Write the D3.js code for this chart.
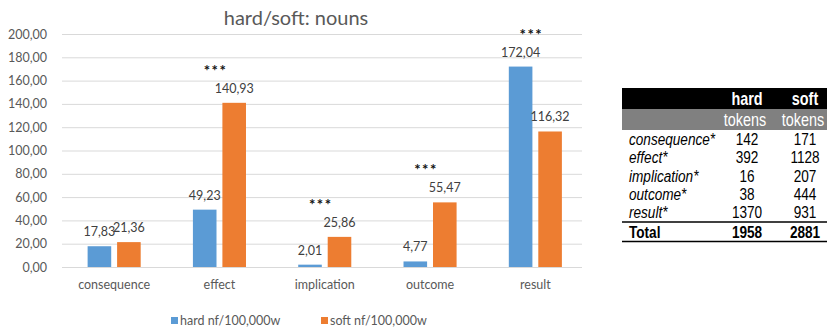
<!DOCTYPE html>
<html>
<head>
<meta charset="utf-8">
<script src="https://cdn.jsdelivr.net/npm/d3@7"></script>
<style>
  html, body { margin: 0; padding: 0; background: #fff; }
  svg { display: block; }
  .chart text { font-family: Lato, "Open Sans", sans-serif; }
  .tbl text { font-family: "Liberation Sans", Arial, sans-serif; }
</style>
</head>
<body>
<svg id="root" width="827" height="328"></svg>
<script>
// Normalised frequencies per 100,000 words
const categories = ["consequence", "effect", "implication", "outcome", "result"];
const hardValues = [17.83, 49.23, 2.01, 4.77, 172.04];
const softValues = [21.36, 140.93, 25.86, 55.47, 116.32];
const significance = ["", "***", "***", "***", "***"];
const yTicks = [0, 20, 40, 60, 80, 100, 120, 140, 160, 180, 200];
const seriesKeys = ["hard", "soft"];
const seriesLabels = ["hard nf/100,000w", "soft nf/100,000w"];
const seriesColors = ["#5B9BD5", "#ED7D31"];

// Raw token counts
const tableRows = ["consequence*", "effect*", "implication*", "outcome*", "result*"];
const tableHard = [142, 392, 16, 38, 1370];
const tableSoft = [171, 1128, 207, 444, 931];
const tableTotal = [1958, 2881];

const locale = d3.formatLocale({ decimal: ",", thousands: ".", grouping: [3], currency: ["", ""] });
const fmt = locale.format(".2f");

const svg = d3.select("#root");
const chart = svg.append("g").attr("class", "chart");

const x0 = d3.scaleBand().domain(categories).range([61.5, 588]).paddingInner(0.496).paddingOuter(0.248);
const x1 = d3.scaleBand().domain(seriesKeys).range([0, x0.bandwidth()]).paddingInner(0.2);
const y = d3.scaleLinear().domain([0, 200]).range([267, 34]);

const rows = categories.map((c, i) => ({ cat: c, hard: hardValues[i], soft: softValues[i], sig: significance[i] }));

// Title
chart.append("text")
  .attr("x", 296).attr("y", 25)
  .attr("text-anchor", "middle")
  .attr("fill", "#595959")
  .style("font-size", "20px")
  .text("hard/soft: nouns");

// Gridlines and y tick labels
const yAxis = d3.axisLeft(y).tickValues(yTicks).tickFormat(fmt).tickSize(-(582 - 62)).tickPadding(15);
const yg = chart.append("g").attr("transform", "translate(62,0)").call(yAxis);
yg.select(".domain").remove();
yg.selectAll(".tick line").attr("stroke", "#d9d9d9").attr("stroke-width", 1);
yg.selectAll(".tick text").attr("fill", "#595959").style("font-size", "12.5px").style("font-family", "Lato, sans-serif");

// Category axis labels
const xAxis = d3.axisBottom(x0).tickSize(0).tickPadding(0);
const xg = chart.append("g").attr("transform", "translate(0,278)").call(xAxis);
xg.select(".domain").remove();
xg.selectAll(".tick text").attr("fill", "#595959").style("font-size", "12.5px").style("font-family", "Lato, sans-serif").attr("dy", "0.9em");

// Bars
const groups = chart.append("g").selectAll("g").data(rows).join("g")
  .attr("transform", d => `translate(${x0(d.cat)},0)`);

groups.selectAll("rect").data(d => seriesKeys.map((k, j) => ({ key: k, value: d[k], color: seriesColors[j] })))
  .join("rect")
  .attr("x", d => x1(d.key))
  .attr("width", x1.bandwidth())
  .attr("y", d => y(d.value))
  .attr("height", d => y(0) - y(d.value))
  .attr("fill", d => d.color);

// Value labels
groups.selectAll("text.val").data(d => seriesKeys.map(k => ({ key: k, value: d[k] })))
  .join("text")
  .attr("class", "val")
  .attr("x", d => x1(d.key) + x1.bandwidth() / 2)
  .attr("y", d => y(d.value) - 10)
  .attr("text-anchor", "middle")
  .attr("fill", "#404040")
  .style("font-size", "12.5px")
  .text(d => fmt(d.value));

// Significance markers
groups.append("text")
  .attr("x", x0.bandwidth() / 2 - 4)
  .attr("y", d => y(Math.max(d.hard, d.soft)) - 27)
  .attr("text-anchor", "middle")
  .attr("fill", "#111")
  .style("font-size", "15px")
  .style("font-weight", "bold")
  .style("letter-spacing", "1.5px")
  .text(d => d.sig);

// Legend
const legend = chart.append("g");
const legendX = [171, 321];
seriesLabels.forEach((lab, i) => {
  legend.append("rect").attr("x", legendX[i]).attr("y", 317).attr("width", 7).attr("height", 7).attr("fill", seriesColors[i]);
  legend.append("text").attr("x", legendX[i] + 9).attr("y", 325)
    .attr("fill", "#595959").style("font-size", "12.5px").text(lab);
});

// Token table (condensed type: horizontally squeezed text)
const tbl = svg.append("g").attr("class", "tbl");
const squeeze = 0.8;
const colHard = 747, colSoft = 805, tblLeft = 622, tblRight = 827;

function cell(x, yy, txt, opts = {}) {
  return tbl.append("text")
    .attr("transform", `translate(${x},${yy}) scale(${squeeze},1)`)
    .attr("text-anchor", opts.anchor || "middle")
    .attr("fill", opts.fill || "#000")
    .style("font-size", (opts.size || 16) + "px")
    .style("font-weight", opts.bold ? "bold" : "normal")
    .style("font-style", opts.italic ? "italic" : "normal")
    .text(txt);
}

tbl.append("rect").attr("x", tblLeft).attr("y", 88).attr("width", tblRight - tblLeft).attr("height", 21).attr("fill", "#000");
tbl.append("rect").attr("x", tblLeft).attr("y", 109).attr("width", tblRight - tblLeft).attr("height", 21).attr("fill", "#808080");

[["hard", colHard], ["soft", colSoft]].forEach(([t, cx]) => {
  cell(cx, 104.5, t, { fill: "#fff", size: 18, bold: true });
  cell(cx - 2, 125.5, "tokens", { fill: "#fff", size: 18 });
});

const rowY = d3.scalePoint().domain(tableRows).range([145, 218]);
tableRows.forEach((r, i) => {
  const yy = rowY(r);
  cell(629, yy, r, { anchor: "start", italic: true, size: 17 });
  cell(colHard, yy, tableHard[i], { size: 17 });
  cell(colSoft, yy, tableSoft[i], { size: 17 });
});

tbl.append("line").attr("x1", tblLeft).attr("x2", tblRight).attr("y1", 222).attr("y2", 222).attr("stroke", "#000").attr("stroke-width", 1.5);
cell(629, 238, "Total", { anchor: "start", bold: true, size: 17 });
cell(colHard, 238, tableTotal[0], { bold: true, size: 17 });
cell(colSoft, 238, tableTotal[1], { bold: true, size: 17 });
tbl.append("line").attr("x1", tblLeft).attr("x2", tblRight).attr("y1", 241.5).attr("y2", 241.5).attr("stroke", "#000").attr("stroke-width", 1.5);
</script>
</body>
</html>
